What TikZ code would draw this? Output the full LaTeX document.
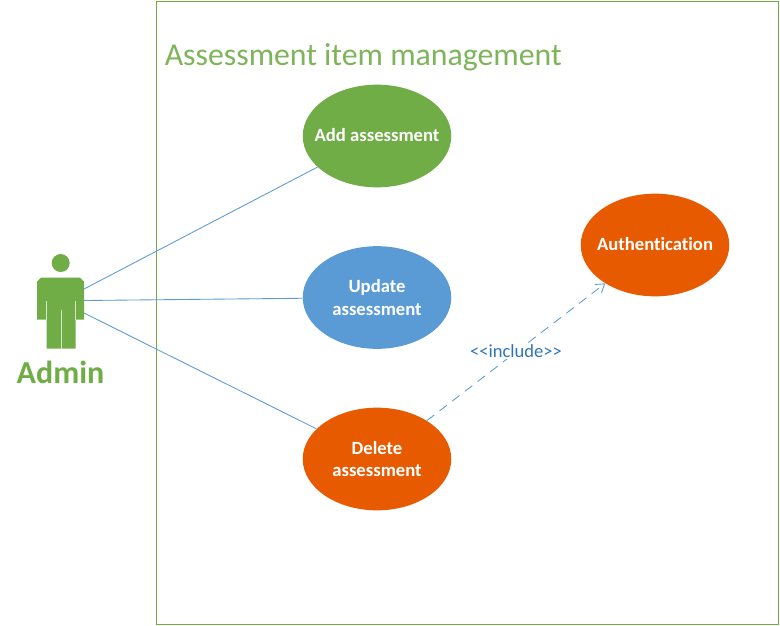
\documentclass[tikz,border=0pt]{standalone}
\usepackage{fontspec}
\setmainfont[Ligatures=NoCommon]{Carlito}
\usetikzlibrary{shapes.geometric,arrows.meta}
\definecolor{grn}{HTML}{70AD47}
\definecolor{blu}{HTML}{5B9BD5}
\definecolor{org}{HTML}{E85A00}
\definecolor{lbl}{HTML}{2E75B6}
\tikzset{
  uc/.style={ellipse,draw=none,inner sep=0pt,minimum width=111.4pt,minimum height=77pt,text=white,align=center,
    font=\fontsize{14pt}{17pt}\selectfont\bfseries},
  assoc/.style={draw=blu,line width=0.65pt},
  incl/.style={draw=blu,line width=0.65pt,dash pattern=on 7pt off 5pt,-{Straight Barb[length=6pt,width=8pt,line width=0.65pt]}},
}
\begin{document}
\begin{tikzpicture}[x=0.75pt,y=-0.75pt]
\useasboundingbox (0,0) rectangle (780,625);
\fill[white] (0,0) rectangle (780,625);
\node[draw=grn,line width=0.75pt,minimum width=466.5pt,minimum height=467.25pt,inner sep=0pt] (sys) at (467,312.5) {};
\node[anchor=base west,inner sep=0pt,text=grn!90!white,font=\fontsize{23.85pt}{28pt}\selectfont] (title) at (164.5,65.5) {Assessment item management};
% actor
\fill[grn] (60.7,263) circle (9);
\fill[grn] (41,277.7) -- (80,277.7) -- (84,281.7) -- (84,319.7) -- (75.5,319.7) -- (75.5,348.7) -- (46.7,348.7) -- (46.7,319.7) -- (37,319.7) -- (37,281.7) -- cycle;
\draw[white!70!grn,line width=0.5pt] (61,310) -- (61,348.7) (46.7,301) -- (46.7,319.7) (75.5,301) -- (75.5,319.7);
\coordinate (a1) at (84,289);
\coordinate (a2) at (84,300.5);
\coordinate (a3) at (84,313);
\node[inner sep=0pt,text=grn,font=\fontsize{24pt}{26pt}\selectfont\bfseries,anchor=base] (admin) at (60.5,383) {Admin};
% use cases
\node[uc,fill=grn] (add) at (377,136) {\raisebox{1.5pt}{\makebox[0pt][c]{Add assessment}}};
\node[uc,fill=blu] (upd) at (377,297.5) {\makebox[0pt][c]{Update}\\\makebox[0pt][c]{assessment}};
\node[uc,fill=org] (del) at (377,459) {\makebox[0pt][c]{Delete}\\\makebox[0pt][c]{assessment}};
\node[uc,fill=org] (auth) at (655,245) {\raisebox{1.5pt}{\makebox[0pt][c]{Authentication}}};
\draw[assoc] (a1) -- (add);
\draw[assoc] (a2) -- (upd);
\draw[assoc] (a3) -- (del);
\draw[incl] (del) -- (auth);
\node[fill=white,text=lbl,inner sep=1pt,font=\fontsize{13.9pt}{15pt}\selectfont] (inclbl) at (516,351.5) {<{}<include>{}>};
\end{tikzpicture}
\end{document}
